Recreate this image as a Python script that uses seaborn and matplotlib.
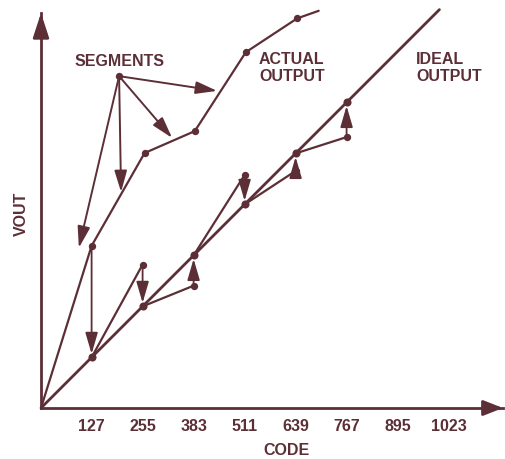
import numpy as np
import pandas as pd
import seaborn as sns
import matplotlib.pyplot as plt

# ideal transfer line and the tick codes
tick_codes = [127, 255, 383, 511, 639, 767, 895, 1023]
ideal_code = [0, 1000]
ideal_vout = [0, 1000]
ideal_dots = [127, 255, 383, 511, 639, 767]

# actual (piecewise) output
actual_code = [0, 127, 260, 386, 514, 643, 697]
actual_vout = [0, 407, 640, 695, 893, 978, 997]

# per-segment outputs before the correction arrow
corr_code = [255, 383, 511, 639, 767]
corr_vout = [360, 307, 585, 595, 680]

# "SEGMENTS" pointer source and targets
seg_src = (196, 833)
seg_tgt_code = [95, 201, 329, 442]
seg_tgt_vout = [402, 542, 678, 796]

col = "#5c2f37"
sns.set_theme(style="white")
plt.rcParams["font.family"] = ["Liberation Sans", "DejaVu Sans"]
plt.rcParams["font.weight"] = "bold"

fig = plt.figure(figsize=(5.06, 4.6), dpi=100)
ax = fig.add_axes([41 / 506, 51 / 460, 462 / 506, 395 / 460])
ax.set_xlim(0, 1159.6)
ax.set_ylim(0, 991.5)

# ideal line
ideal = pd.DataFrame({"code": ideal_code, "vout": ideal_vout})
sns.lineplot(data=ideal, x="code", y="vout", color=col, lw=2.0, ax=ax, clip_on=False)

# actual output
actual = pd.DataFrame({"code": actual_code, "vout": actual_vout})
sns.lineplot(data=actual, x="code", y="vout", color=col, lw=1.6, sort=False, ax=ax, clip_on=False)
sns.scatterplot(data=actual.iloc[1:-1], x="code", y="vout", color=col, s=28, linewidth=0, ax=ax, clip_on=False)

# segment lines starting at each ideal point
for i, (c, v) in enumerate(zip(corr_code, corr_vout)):
    prev = tick_codes[i]
    seg = pd.DataFrame({"code": [prev, c], "vout": [prev, v]})
    sns.lineplot(data=seg, x="code", y="vout", color=col, lw=1.6, ax=ax)
corr = pd.DataFrame({"code": corr_code, "vout": corr_vout})
sns.scatterplot(data=corr, x="code", y="vout", color=col, s=28, linewidth=0, ax=ax)
dots = pd.DataFrame({"code": ideal_dots, "vout": ideal_dots})
sns.scatterplot(data=dots, x="code", y="vout", color=col, s=34, linewidth=0, ax=ax)

# correction arrows
head = "-|>,head_length=13,head_width=3.8"
arrow_from = [(127, 407)] + list(zip(corr_code, corr_vout))
for c, v in arrow_from:
    ax.annotate("", xy=(c, c), xytext=(c, v),
                arrowprops=dict(arrowstyle=head, color=col, lw=1.3,
                                mutation_scale=1, shrinkA=0, shrinkB=2.5))

# SEGMENTS pointers
sns.scatterplot(x=[seg_src[0]], y=[seg_src[1]], color=col, s=28, linewidth=0, ax=ax)
for c, v in zip(seg_tgt_code, seg_tgt_vout):
    ax.annotate("", xy=(c, v), xytext=seg_src,
                arrowprops=dict(arrowstyle="-|>,head_length=13,head_width=3.8", color=col,
                                lw=1.4, mutation_scale=1, shrinkA=0, shrinkB=0))

# axes with arrow heads
for s in ["top", "right"]:
    ax.spines[s].set_visible(False)
for s in ["left", "bottom"]:
    ax.spines[s].set_color(col)
    ax.spines[s].set_linewidth(2.0)
ax.annotate("", xy=(1, 0), xytext=(0.96, 0), xycoords="axes fraction",
            arrowprops=dict(arrowstyle="-|>,head_length=12,head_width=4.7", color=col,
                            lw=2.0, mutation_scale=1, shrinkA=0, shrinkB=0))
ax.annotate("", xy=(0, 1), xytext=(0, 0.96), xycoords="axes fraction",
            arrowprops=dict(arrowstyle="-|>,head_length=15,head_width=4.9", color=col,
                            lw=2.0, mutation_scale=1, shrinkA=0, shrinkB=0))

ax.set_xticks(tick_codes)
ax.set_xticklabels([str(t) for t in tick_codes], fontsize=11.5, fontweight="bold", color=col)
ax.tick_params(axis="x", length=0, pad=7.5)
ax.set_yticks([])
ax.set_xlabel("")
ax.set_ylabel("")

tk = dict(fontsize=11.5, fontweight="bold", color=col)
fig.text(286.5 / 506, 1 - 451 / 460, "CODE", ha="center", va="center", **tk)
fig.text(21 / 506, 1 - 214 / 460, "VOUT", ha="center", va="center", rotation=90, **tk)
fig.text(120 / 506, 1 - 61 / 460, "SEGMENTS", ha="center", va="center", **tk)
fig.text(259 / 506, 1 - 68 / 460, "ACTUAL\nOUTPUT", ha="left", va="center", linespacing=1.2, **tk)
fig.text(416 / 506, 1 - 68 / 460, "IDEAL\nOUTPUT", ha="left", va="center", linespacing=1.2, **tk)

fig.savefig("out.png", dpi=100)
